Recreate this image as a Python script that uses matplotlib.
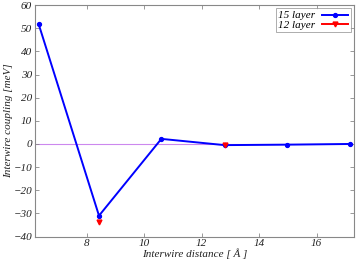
import matplotlib
matplotlib.use('Agg')
import matplotlib.pyplot as plt
from matplotlib.lines import Line2D

'''Interwire coupling vs distance, two slab thicknesses'''
DIST_15 = [6.33, 8.43, 10.6, 12.8, 14.97, 17.17]
COUPLING_15 = [51.8, -31.0, 2.2, -0.5, -0.3, 0.0]
DIST_12 = [8.43, 12.8]
COUPLING_12 = [-33.6, -0.6]

X_TICKS = [8, 10, 12, 14, 16]
Y_TICKS = [-40, -30, -20, -10, 0, 10, 20, 30, 40, 50, 60]

plt.rcParams['font.family'] = ['Liberation Serif', 'DejaVu Serif']
plt.rcParams['font.style'] = 'italic'
plt.rcParams['font.size'] = 8

fig = plt.figure(figsize=(3.6, 2.7), dpi=100)
ax = fig.add_axes([0.097, 0.124, 0.886, 0.857])

# zero line
ax.axhline(0, color='#cc88ee', lw=0.8, zorder=1)

ax.plot(DIST_12, COUPLING_12, ls='none', marker='v', ms=3.5, c='red', zorder=3)
ax.plot(DIST_15, COUPLING_15, c='blue', lw=1.4, marker='o', ms=2.8, zorder=2)

ax.set_xlim(6.2, 17.3)
ax.set_ylim(-40, 60)
ax.set_xticks(X_TICKS)
ax.set_yticks(Y_TICKS)
ax.tick_params(direction='in', top=True, right=True, length=3, width=0.6,
               color='#888888', labelsize=8, labelcolor='#222222', pad=2)
for s in ax.spines.values():
        s.set_color('#888888')
        s.set_linewidth(0.8)

ax.set_xlabel(u'Interwire distance [ \u00c5 ]', labelpad=0, color='#222222')
ax.set_ylabel('Interwire coupling [meV]', labelpad=0, color='#222222')

handles = [Line2D([], [], c='blue', lw=1.4, marker='o', ms=2.8),
           Line2D([], [], c='red', lw=1.4, marker='v', ms=3.5)]
leg = ax.legend(handles, ['15 layer', '12 layer'], loc='upper right',
                markerfirst=False, fontsize=8, handlelength=2.4,
                borderpad=0.2, labelspacing=0.0, fancybox=False,
                borderaxespad=0.3, handletextpad=0.6)
leg.get_frame().set_edgecolor('#888888')
leg.get_frame().set_linewidth(0.6)

fig.savefig('out.png', dpi=100)
